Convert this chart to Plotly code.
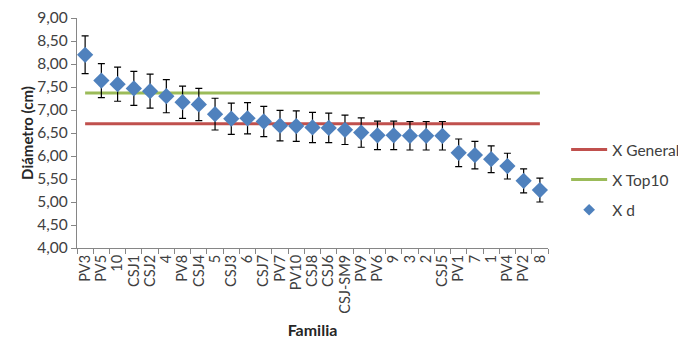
import plotly.graph_objects as go

familias = ["PV3", "PV5", "10", "CSJ1", "CSJ2", "4", "PV8", "CSJ4", "5", "CSJ3", "6", "CSJ7",
            "PV7", "PV10", "CSJ8", "CSJ6", "CSJ-SM9", "PV9", "PV6", "9", "3", "2", "CSJ5",
            "PV1", "7", "1", "PV4", "PV2", "8"]
x_d = [8.20, 7.64, 7.56, 7.47, 7.41, 7.30, 7.17, 7.12, 6.91, 6.81, 6.82, 6.75,
       6.66, 6.65, 6.62, 6.61, 6.57, 6.51, 6.45, 6.45, 6.44, 6.44, 6.44,
       6.07, 6.02, 5.93, 5.78, 5.46, 5.26]
err = [0.41, 0.37, 0.37, 0.37, 0.37, 0.36, 0.35, 0.35, 0.345, 0.34, 0.34, 0.33,
       0.33, 0.33, 0.33, 0.32, 0.32, 0.32, 0.31, 0.31, 0.31, 0.31, 0.31,
       0.30, 0.30, 0.29, 0.28, 0.26, 0.26]
x_general = 6.70
x_top10 = 7.37

font_family = "Lato, 'Open Sans', sans-serif"

fig = go.Figure()
fig.add_trace(go.Scatter(
    x=familias, y=[x_general] * len(familias), mode="lines", name="X General",
    line=dict(color="#C0504D", width=3), legendgroup="a"))
fig.add_trace(go.Scatter(
    x=familias, y=[x_top10] * len(familias), mode="lines", name="X Top10",
    line=dict(color="#9BBB59", width=3), legendgroup="b"))
fig.add_trace(go.Scatter(
    x=familias, y=x_d, mode="markers", name="X d", showlegend=False,
    marker=dict(symbol="diamond", size=12.5, color="#4F81BD"),
    error_y=dict(type="data", array=err, visible=True, color="#000000",
                 thickness=1.2, width=3.5)))
# legend-only entry with smaller symbol, as in the reference legend
fig.add_trace(go.Scatter(
    x=[None], y=[None], mode="markers", name="X d",
    marker=dict(symbol="diamond", size=9, color="#4F81BD"),
    legendgroup="c"))

fig.update_layout(
    width=678, height=339,
    margin=dict(l=77, r=130, t=18, b=91),
    paper_bgcolor="white", plot_bgcolor="white",
    separators=",.",
    font=dict(family=font_family, size=14, color="#404040"),
    showlegend=True,
    legend=dict(xref="container", yref="container", x=0.835, y=0.608,
                xanchor="left", yanchor="top", tracegroupgap=7,
                itemwidth=36, font=dict(size=15.5, color="#404040"),
                bgcolor="rgba(0,0,0,0)"),
)
fig.update_xaxes(
    type="category", categoryorder="array", categoryarray=familias,
    tickmode="array", tickvals=familias, ticktext=familias,
    tickangle=-90, tickson="boundaries", ticks="outside", ticklen=5,
    tickcolor="#868686", showline=True, linecolor="#868686", linewidth=1.3,
    showgrid=False, tickfont=dict(size=14.5, color="#404040"),
    title=dict(text="<b>Familia</b>", font=dict(size=16, color="#262626"), standoff=14),
    range=[-0.5, len(familias) - 0.5], automargin=False,
)
fig.update_yaxes(
    range=[4, 9], dtick=0.5, tickformat=".2f", ticks="outside", ticklen=5,
    tickcolor="#868686", showline=True, linecolor="#868686", linewidth=1.3,
    showgrid=False, zeroline=False, tickfont=dict(size=15.5, color="#404040"),
    title=dict(text="<b>Diámetro (cm)</b>", font=dict(size=15, color="#262626"), standoff=0),
    automargin=False,
)

fig.write_html("out.html")
